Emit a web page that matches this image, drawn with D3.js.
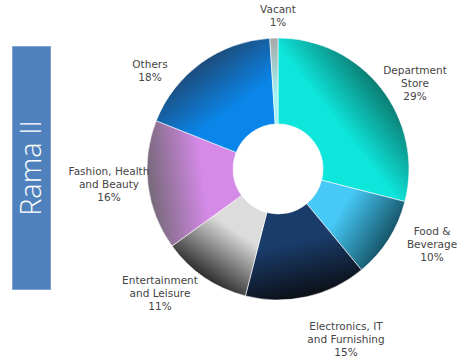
<!DOCTYPE html>
<html lang="en">
<head>
    <meta charset="UTF-8">
    <title>Rama II tenant mix</title>
    <style>
        body { margin: 0; background: #fff; }
        svg { display: block; }
    </style>
</head>
<body>
    <svg class="mix_plot"></svg>
    <script src="https://cdnjs.cloudflare.com/ajax/libs/d3/7.8.5/d3.min.js"></script>
    <script>
    // slices go clockwise from 12 o'clock
    const categories = ["Department Store", "Food & Beverage", "Electronics, IT and Furnishing",
        "Entertainment and Leisure", "Fashion, Health and Beauty", "Others", "Vacant"];
    const shares = [29, 10, 15, 11, 16, 18, 1];
    const label_lines = [
        ["Department", "Store", "29%"],
        ["Food &", "Beverage", "10%"],
        ["Electronics, IT", "and Furnishing", "15%"],
        ["Entertainment", "and Leisure", "11%"],
        ["Fashion, Health", "and Beauty", "16%"],
        ["Others", "18%"],
        ["Vacant", "1%"]
    ];
    // [light, dark] per slice
    const slice_colors = [
        ["#0ee6dc", "#0b7d72"],
        ["#46c9f6", "#17566a"],
        ["#1a3c6a", "#0b0f16"],
        ["#dcdcdc", "#2e2e2e"],
        ["#d58ae8", "#756878"],
        ["#0a86ea", "#1c4c7c"],
        ["#9ff2f2", "#a8a8a8"]
    ];
    const title = "Rama II";

    const width = 459, height = 361;
    const cx = 278, cy = 169, r_in = 45, r_out = 131;

    const svg = d3.select(".mix_plot")
        .attr("width", width)
        .attr("height", height);

    const defs = svg.append("defs");

    const pie = d3.pie().sort(null).value(d => d)(shares);
    const arc = d3.arc().innerRadius(r_in).outerRadius(r_out);

    // gradient runs from the hole outwards along each slice's middle
    // (coordinates are in the translated plot group, so centre is 0,0)
    pie.forEach((p, i) => {
        const mid = (p.startAngle + p.endAngle) / 2;
        const g = defs.append("linearGradient")
            .attr("id", "grad" + i)
            .attr("gradientUnits", "userSpaceOnUse")
            .attr("x1", r_in * Math.sin(mid))
            .attr("y1", -r_in * Math.cos(mid))
            .attr("x2", r_out * Math.sin(mid))
            .attr("y2", -r_out * Math.cos(mid));
        g.append("stop").attr("offset", "0%").attr("stop-color", slice_colors[i][0]);
        g.append("stop").attr("offset", "35%").attr("stop-color", slice_colors[i][0]);
        g.append("stop").attr("offset", "100%").attr("stop-color", slice_colors[i][1]);
    });

    const plot = svg.append("g")
        .attr("transform", "translate(" + cx + "," + cy + ")");

    plot.selectAll("path")
        .data(pie)
        .enter()
        .append("path")
        .attr("d", arc)
        .style("fill", (d, i) => "url(#grad" + i + ")")
        .style("stroke", "#ffffff")
        .style("stroke-width", 0.6);

    // label anchors (centre x, first baseline)
    const label_pos = [[415, 74], [432, 235], [346, 330], [160, 284], [109, 175], [150, 68], [278, 13]];

    const labels = svg.append("g")
        .style("font-family", "'DejaVu Sans', sans-serif")
        .style("font-size", "10.5px")
        .style("fill", "#454545")
        .attr("text-anchor", "middle");

    label_lines.forEach((lines, i) => {
        lines.forEach((ln, j) => {
            labels.append("text")
                .attr("x", label_pos[i][0])
                .attr("y", label_pos[i][1] + j * 13)
                .text(ln);
        });
    });

    // side banner
    svg.append("rect")
        .attr("x", 12.5)
        .attr("y", 46.5)
        .attr("width", 38)
        .attr("height", 243)
        .style("fill", "#4f81bd")
        .style("stroke", "#7ea3d3")
        .style("stroke-width", 1);

    svg.append("text")
        .attr("transform", "translate(41,168) rotate(-90)")
        .attr("text-anchor", "middle")
        .style("font-family", "'Open Sans', Lato, sans-serif")
        .style("font-weight", 300)
        .style("font-size", "29px")
        .style("fill", "#ffffff")
        .text(title);
    </script>
</body>
</html>
